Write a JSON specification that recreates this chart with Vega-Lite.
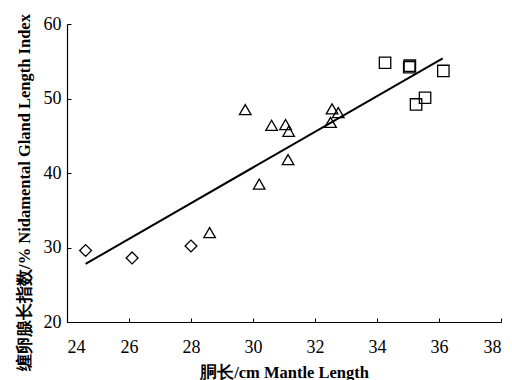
{
  "$schema": "https://vega.github.io/schema/vega-lite/v6.json",
  "width": 434,
  "height": 298,
  "autosize": {"type": "none"},
  "padding": {"left": 67, "top": 24, "right": 11, "bottom": 58},
  "background": "white",
  "view": {"stroke": null},
  "config": {
    "axis": {
      "domainColor": "black",
      "domainWidth": 1.2,
      "tickColor": "black",
      "tickSize": -4,
      "tickWidth": 1,
      "grid": false,
      "labelFont": "Liberation Serif",
      "labelFontSize": 18,
      "labelColor": "black",
      "titleFont": "Liberation Serif",
      "titleFontSize": 16.5,
      "titleFontWeight": "bold",
      "titleColor": "black"
    }
  },
  "layer": [
    {
      "data": {"values": [{"ml": 24.6, "idx": 27.8}, {"ml": 36.12, "idx": 55.4}]},
      "mark": {"type": "line", "color": "black", "strokeWidth": 2},
      "encoding": {
        "x": {"field": "ml", "type": "quantitative"},
        "y": {"field": "idx", "type": "quantitative"}
      }
    },
    {
      "data": {"values": [
        {"ml": 24.6, "idx": 29.6, "g": "A"},
        {"ml": 26.1, "idx": 28.6, "g": "A"},
        {"ml": 28.0, "idx": 30.2, "g": "A"},
        {"ml": 28.6, "idx": 32.0, "g": "B"},
        {"ml": 29.75, "idx": 48.5, "g": "B"},
        {"ml": 30.2, "idx": 38.5, "g": "B"},
        {"ml": 30.6, "idx": 46.4, "g": "B"},
        {"ml": 31.05, "idx": 46.5, "g": "B"},
        {"ml": 31.15, "idx": 45.6, "g": "B"},
        {"ml": 31.13, "idx": 41.8, "g": "B"},
        {"ml": 32.55, "idx": 48.6, "g": "B"},
        {"ml": 32.5, "idx": 46.8, "g": "B"},
        {"ml": 32.75, "idx": 48.1, "g": "B"},
        {"ml": 34.26, "idx": 54.8, "g": "C"},
        {"ml": 35.04, "idx": 54.2, "g": "C"},
        {"ml": 35.06, "idx": 54.4, "g": "C"},
        {"ml": 36.14, "idx": 53.7, "g": "C"},
        {"ml": 35.26, "idx": 49.2, "g": "C"},
        {"ml": 35.55, "idx": 50.1, "g": "C"}
      ]},
      "mark": {"type": "point", "filled": false, "color": "black", "strokeWidth": 1.3, "opacity": 1},
      "encoding": {
        "x": {
          "field": "ml", "type": "quantitative",
          "scale": {"domain": [24, 38], "nice": false, "zero": false},
          "axis": {"values": [24, 26, 28, 30, 32, 34, 36, 38], "labelPadding": 20, "title": "胴长/cm Mantle Length", "titleBaseline": "middle", "titleY": 50}
        },
        "y": {
          "field": "idx", "type": "quantitative",
          "scale": {"domain": [20, 60], "nice": false, "zero": false},
          "axis": {"values": [20, 30, 40, 50, 60], "labelPadding": 10, "title": "缠卵腺长指数/% Nidamental Gland Length Index", "titleX": -43, "titleY": 168, "titleAngle": -90, "titleAlign": "center", "titleBaseline": "middle"}
        },
        "shape": {
          "field": "g", "type": "nominal",
          "scale": {"domain": ["A", "B", "C"], "range": ["diamond", "triangle-up", "square"]},
          "legend": null
        },
        "size": {
          "field": "g", "type": "nominal",
          "scale": {"domain": ["A", "B", "C"], "range": [140, 130, 165]},
          "legend": null
        }
      }
    }
  ]
}
